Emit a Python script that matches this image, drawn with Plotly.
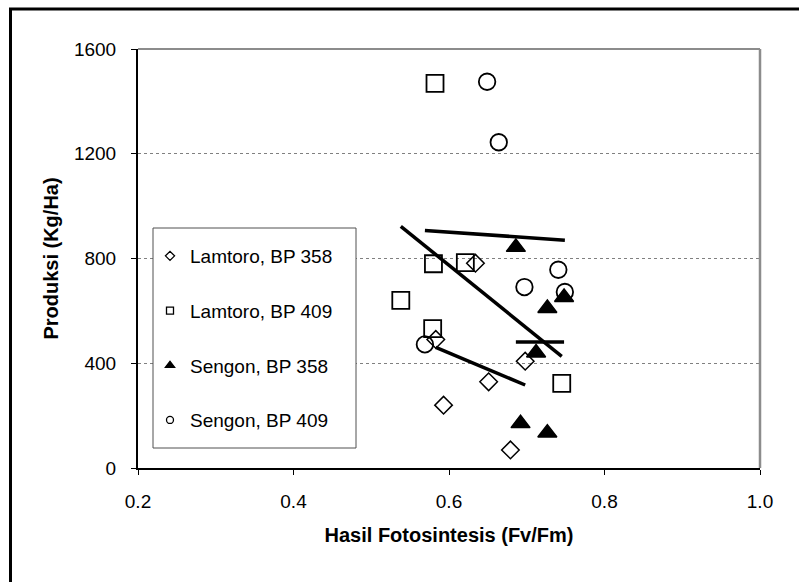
import plotly.graph_objects as go

# ---- data ----
lam358_x = [0.634, 0.583, 0.698, 0.651, 0.593, 0.679]
lam358_y = [782, 491, 408, 329, 240, 69]

lam409_x = [0.582, 0.580, 0.621, 0.538, 0.579, 0.745]
lam409_y = [1469, 780, 784, 640, 532, 323]

sen358_x = [0.686, 0.748, 0.7265, 0.712, 0.692, 0.7265]
sen358_y = [843, 652, 610, 440, 170, 134]

sen409_x = [0.649, 0.664, 0.7406, 0.697, 0.749, 0.569]
sen409_y = [1475, 1244, 757, 691, 672, 472]

# trend lines (endpoints)
tr_lam358_x = [0.583, 0.698]
tr_lam358_y = [461, 317]
tr_lam409_x = [0.538, 0.745]
tr_lam409_y = [923, 426]
tr_sen358_x = [0.686, 0.748]
tr_sen358_y = [481, 481]
tr_sen409_x = [0.569, 0.749]
tr_sen409_y = [907, 870]

names = ["Lamtoro, BP 358", "Lamtoro, BP 409", "Sengon, BP 358", "Sengon, BP 409"]
x_ticks = [0.2, 0.4, 0.6, 0.8, 1.0]
y_ticks = [0, 400, 800, 1200, 1600]

FONT = "Liberation Sans, Arial, sans-serif"

fig = go.Figure()

# trend lines
for tx, ty in [(tr_lam358_x, tr_lam358_y), (tr_lam409_x, tr_lam409_y),
               (tr_sen358_x, tr_sen358_y), (tr_sen409_x, tr_sen409_y)]:
    fig.add_trace(go.Scatter(x=tx, y=ty, mode="lines", showlegend=False,
                             line=dict(color="black", width=3.5), hoverinfo="skip"))

series = [
    (lam358_x, lam358_y, "diamond-open", 13.5, 1.5),
    (lam409_x, lam409_y, "square-open", 17, 1.8),
    (sen358_x, sen358_y, "triangle-up", 16.5, 1.5),
    (sen409_x, sen409_y, "circle-open", 16.5, 1.8),
]
leg_sizes = [7, 7, 8, 7]

for (sx, sy, sym, size, lw), nm, ls in zip(series, names, leg_sizes):
    fig.add_trace(go.Scatter(x=sx, y=sy, mode="markers", showlegend=False,
                             marker=dict(symbol=sym, size=size, color="black",
                                         line=dict(color="black", width=lw))))
    # legend-only entry with small marker
    fig.add_trace(go.Scatter(x=[None], y=[None], mode="markers", name=nm,
                             legendgroup=nm,
                             marker=dict(symbol=sym, size=ls, color="black",
                                         line=dict(color="black", width=1.3))))

L, R, T, B = 138, 39, 49, 114
W, H = 799, 582
pw, ph = W - L - R, H - T - B

def px2paper_x(p):
    return (p - L) / pw

def px2paper_y(p):
    return (H - B - p) / ph

shapes = [
    # legend box
    dict(type="rect", xref="paper", yref="paper", layer="above",
         x0=px2paper_x(153), x1=px2paper_x(356), y0=px2paper_y(448), y1=px2paper_y(228),
         line=dict(color="#505050", width=1), fillcolor="white"),
    # gray top & right plot frame
    dict(type="line", xref="paper", yref="paper", x0=0, x1=1, y0=1, y1=1,
         line=dict(color="#8c8c8c", width=2)),
    dict(type="line", xref="paper", yref="paper", x0=1, x1=1, y0=0, y1=1,
         line=dict(color="#8c8c8c", width=2.5)),
    # outer chart border (left and top)
    dict(type="line", xref="paper", yref="paper",
         x0=px2paper_x(10.5), x1=px2paper_x(10.5), y0=px2paper_y(9), y1=px2paper_y(600),
         line=dict(color="black", width=3)),
    dict(type="line", xref="paper", yref="paper",
         x0=px2paper_x(9), x1=px2paper_x(820), y0=px2paper_y(9), y1=px2paper_y(9),
         line=dict(color="black", width=3)),
]

fig.update_layout(
    width=W, height=H,
    margin=dict(l=L, r=R, t=T, b=B),
    paper_bgcolor="white", plot_bgcolor="white",
    font=dict(family=FONT, size=19, color="black"),
    shapes=shapes,
    showlegend=True,
    legend=dict(x=px2paper_x(150), y=px2paper_y(237), xanchor="left", yanchor="top",
                borderwidth=0, bgcolor="rgba(0,0,0,0)",
                font=dict(family=FONT, size=19, color="black"),
                traceorder="grouped", tracegroupgap=27),
    xaxis=dict(range=[0.2, 1.0], tickvals=x_ticks, ticktext=[f"{v:.1f}" for v in x_ticks],
               showgrid=False, zeroline=False,
               showline=True, linecolor="black", linewidth=2,
               ticks="outside", ticklen=5, tickcolor="black", tickwidth=1,
               ticklabelstandoff=10,
               title=dict(text="<b>Hasil Fotosintesis (Fv/Fm)</b>",
                          font=dict(family=FONT, size=20, color="black"), standoff=17)),
    yaxis=dict(range=[0, 1600], tickvals=y_ticks,
               showgrid=True, gridcolor="#808080", gridwidth=1, griddash="dot",
               zeroline=False,
               showline=True, linecolor="black", linewidth=2,
               ticks="outside", ticklen=5, tickcolor="black", tickwidth=1,
               ticklabelstandoff=11,
               title=dict(text="<b>Produksi (Kg/Ha)</b>",
                          font=dict(family=FONT, size=20, color="black"), standoff=10)),
)

fig.write_html("out.html")
